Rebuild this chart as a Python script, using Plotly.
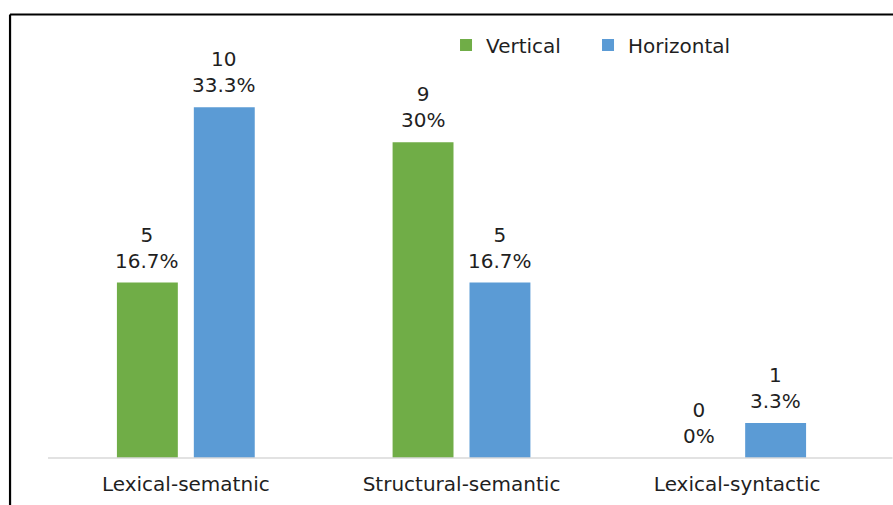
import plotly.graph_objects as go

categories = ["Lexical-sematnic", "Structural-semantic", "Lexical-syntactic"]
vertical = [5, 9, 0]
horizontal = [10, 5, 1]
vertical_pct = ["16.7%", "30%", "0%"]
horizontal_pct = ["33.3%", "16.7%", "3.3%"]

GREEN = "#70AD47"
BLUE = "#5B9BD5"
TXT = "#1f1f1f"
FONT = "DejaVu Sans"
FS = 20
W, H = 893, 505
ML, MR, MT, MB = 47.5, 17.5, 37, 47
BARGAP = 0.442
GROUPGAP = 0.208

fig = go.Figure()
fig.add_trace(go.Bar(name="Vertical", x=list(range(len(categories))), y=vertical,
                     marker=dict(color=GREEN, line=dict(width=0))))
fig.add_trace(go.Bar(name="Horizontal", x=list(range(len(categories))), y=horizontal,
                     marker=dict(color=BLUE, line=dict(width=0))))

# data labels, positioned over each bar in data units
slot = (1 - BARGAP) / 2
annotations = []
for series, pcts, sgn in ((vertical, vertical_pct, -1), (horizontal, horizontal_pct, 1)):
    for i, (v, p) in enumerate(zip(series, pcts)):
        annotations.append(dict(x=i + sgn * slot / 2, y=v, xref="x", yref="y",
                                text=f"{v}<br>{p}", showarrow=False,
                                yanchor="bottom", yshift=8,
                                font=dict(family=FONT, size=FS, color=TXT)))

pw = W - ML - MR
ph = H - MT - MB
def px_x(px):
    return (px - ML) / pw
def px_y(py):
    return (H - MB - py) / ph

shapes = [
    dict(type="line", xref="paper", yref="paper", x0=0, x1=px_x(W), y0=0, y1=0,
         line=dict(color="#D9D9D9", width=1.5)),
    dict(type="line", xref="paper", yref="paper", x0=px_x(9.5), x1=px_x(W + 5),
         y0=px_y(14.5), y1=px_y(14.5), line=dict(color="black", width=2.2)),
    dict(type="line", xref="paper", yref="paper", x0=px_x(9.5), x1=px_x(9.5),
         y0=px_y(14.5), y1=px_y(H + 5), line=dict(color="black", width=2.2)),
]

fig.update_layout(
    width=W, height=H,
    margin=dict(l=ML, r=MR, t=MT, b=MB, pad=0, autoexpand=False),
    paper_bgcolor="white", plot_bgcolor="white",
    barmode="group", bargap=BARGAP, bargroupgap=GROUPGAP,
    font=dict(family=FONT, size=FS, color=TXT),
    xaxis=dict(tickmode="array", tickvals=list(range(len(categories))), ticktext=categories,
               range=[-0.5, len(categories) - 0.5], showgrid=False, zeroline=False,
               showline=False, ticks="", ticklabelstandoff=12, automargin=False,
               tickfont=dict(family=FONT, size=FS, color=TXT)),
    yaxis=dict(range=[0, 12], visible=False, automargin=False),
    showlegend=True,
    legend=dict(orientation="h", x=px_x(446), xanchor="left", y=px_y(45), yanchor="middle",
                font=dict(family=FONT, size=FS, color=TXT), bgcolor="rgba(0,0,0,0)",
                itemwidth=30, entrywidth=97, traceorder="normal"),
    annotations=annotations,
    shapes=shapes,
)

fig.write_html("out.html")
